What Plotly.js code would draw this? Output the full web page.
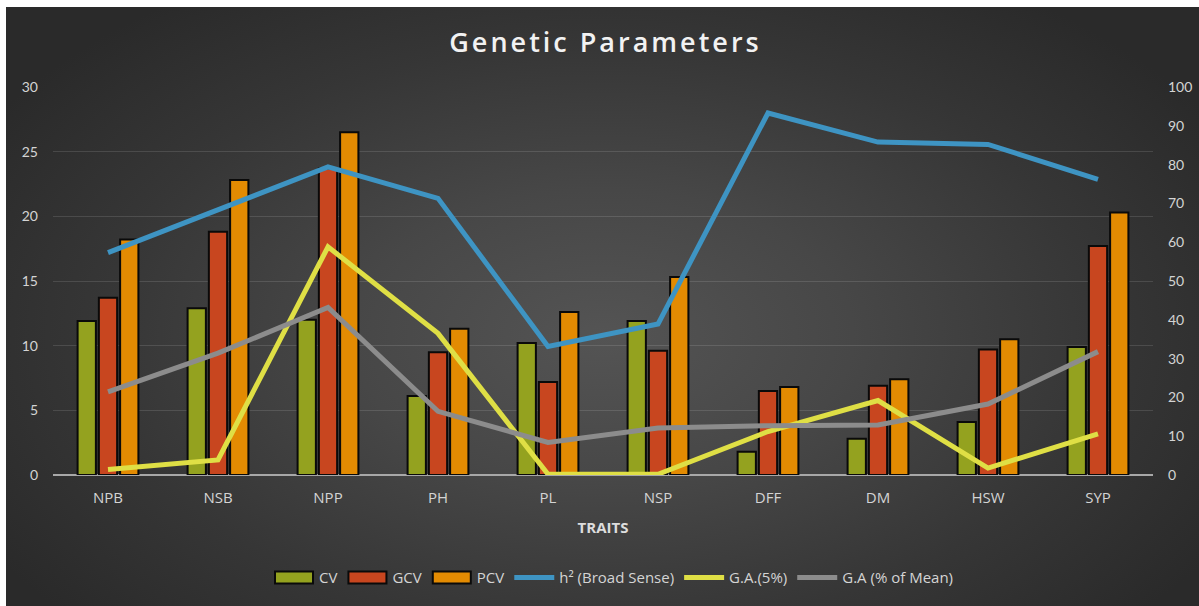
<!DOCTYPE html>
<html>
<head>
<meta charset="utf-8">
<script src="https://cdn.plot.ly/plotly-3.0.1.min.js"></script>
<style>
  html, body { margin: 0; padding: 0; background: #ffffff; }
  #wrap { position: absolute; left: 0; top: 0; width: 1199px; height: 606px; background: #ffffff; }
  #bg { position: absolute; left: 6px; top: 7px; width: 1193px; height: 599px;
        background: radial-gradient(ellipse 60% 70% at 50% 55%, #545454 0%, #474747 35%, #363636 70%, #2a2a2a 100%); }
  #chart { position: absolute; left: 0; top: 0; width: 1199px; height: 606px; }
  .gtitle { letter-spacing: 3px; }
</style>
</head>
<body>
<div id="wrap"><div id="bg"></div><div id="chart"></div></div>
<script>
const traits = ["NPB", "NSB", "NPP", "PH", "PL", "NSP", "DFF", "DM", "HSW", "SYP"];
const cv  = [11.9, 12.9, 12.0, 6.1, 10.2, 11.9, 1.8, 2.8, 4.1, 9.9];
const gcv = [13.7, 18.8, 23.7, 9.5, 7.2, 9.6, 6.5, 6.9, 9.7, 17.7];
const pcv = [18.2, 22.8, 26.5, 11.3, 12.6, 15.3, 6.8, 7.4, 10.5, 20.3];
const h2  = [57.3, 68.3, 79.4, 71.3, 33.1, 38.9, 93.3, 85.8, 85.2, 76.2];
const ga5 = [1.4, 3.9, 58.8, 36.5, 0.2, 0.2, 11.2, 19.2, 1.8, 10.6];
const gaMean = [21.4, 31.4, 43.2, 16.4, 8.4, 12.1, 12.7, 12.9, 18.3, 31.8];
const leftTicks = [0, 5, 10, 15, 20, 25, 30];
const rightTicks = [0, 10, 20, 30, 40, 50, 60, 70, 80, 90, 100];

const barLine = {color: "#0a0a0a", width: 2};
const traces = [
  {type: "bar", name: "CV", x: traits, y: cv, marker: {color: "#94a21f", line: barLine}},
  {type: "bar", name: "GCV", x: traits, y: gcv, marker: {color: "#c8461f", line: barLine}},
  {type: "bar", name: "PCV", x: traits, y: pcv, marker: {color: "#e38b02", line: barLine}},
  {type: "scatter", mode: "lines", name: "h² (Broad Sense)", x: traits, y: h2, yaxis: "y2",
   line: {color: "#3e94c3", width: 5}},
  {type: "scatter", mode: "lines", name: "G.A.(5%)", x: traits, y: ga5, yaxis: "y2",
   line: {color: "#dfdf45", width: 5}},
  {type: "scatter", mode: "lines", name: "G.A (% of Mean)", x: traits, y: gaMean, yaxis: "y2",
   line: {color: "#8c8c8c", width: 5}}
];

const tickFont = {family: "Lato, 'Open Sans', sans-serif", size: 14, color: "#d4d4d4"};
const layout = {
  width: 1199, height: 606,
  paper_bgcolor: "rgba(0,0,0,0)", plot_bgcolor: "rgba(0,0,0,0)",
  margin: {l: 53, r: 46, t: 87, b: 131},
  title: {text: "Genetic Parameters", x: 0.505, xanchor: "center", y: 0.929, yanchor: "middle",
          font: {family: "'Open Sans', sans-serif", size: 27, color: "#f2f2f2", weight: 600}},
  barmode: "group", bargap: 0.42, bargroupgap: 0.14,
  xaxis: {tickfont: {family: "'Open Sans', sans-serif", size: 15, color: "#d4d4d4"},
          showgrid: false, ticks: "", showline: false, zeroline: false, ticklabelstandoff: 12,
          title: {text: "<b>TRAITS</b>", font: {family: "'Open Sans', sans-serif", size: 15, color: "#dddddd"}, standoff: 16},
          fixedrange: true},
  yaxis: {range: [0, 30], tickvals: leftTicks, ticktext: leftTicks.map(String),
          tickfont: tickFont, gridcolor: "rgba(255,255,255,0.12)", gridwidth: 1,
          zeroline: true, zerolinecolor: "#a8a8a8", zerolinewidth: 2,
          showline: false, ticks: "", ticklabelstandoff: 14},
  yaxis2: {range: [0, 100], tickvals: rightTicks, ticktext: rightTicks.map(String),
           overlaying: "y", side: "right", tickfont: tickFont, showgrid: false,
           zeroline: false, showline: false, ticks: "", ticklabelstandoff: 14},
  legend: {orientation: "h", x: 0.51, xanchor: "center", y: -0.265, yanchor: "middle",
           font: {family: "'Open Sans', sans-serif", size: 15, color: "#d4d4d4"},
           bgcolor: "rgba(0,0,0,0)", itemwidth: 40, traceorder: "normal", tracegroupgap: 0},
  showlegend: true
};

Plotly.newPlot("chart", traces, layout, {displayModeBar: false, staticPlot: true}).then(function (gd) {
  // widen the bar swatches in the legend to match the reference's wide rectangles
  gd.querySelectorAll(".legend .legendpoints path.legendundefined, .legend .legendbar path, .legend .legendpoints path").forEach(function (p) {
    const d = p.getAttribute("d") || "";
    if (/^M6,6H-6V-6H6Z$/.test(d)) {
      p.setAttribute("d", "M19,6H-19V-6H19Z");
      p.style.strokeWidth = "2px";
    }
  });
});
</script>
</body>
</html>
